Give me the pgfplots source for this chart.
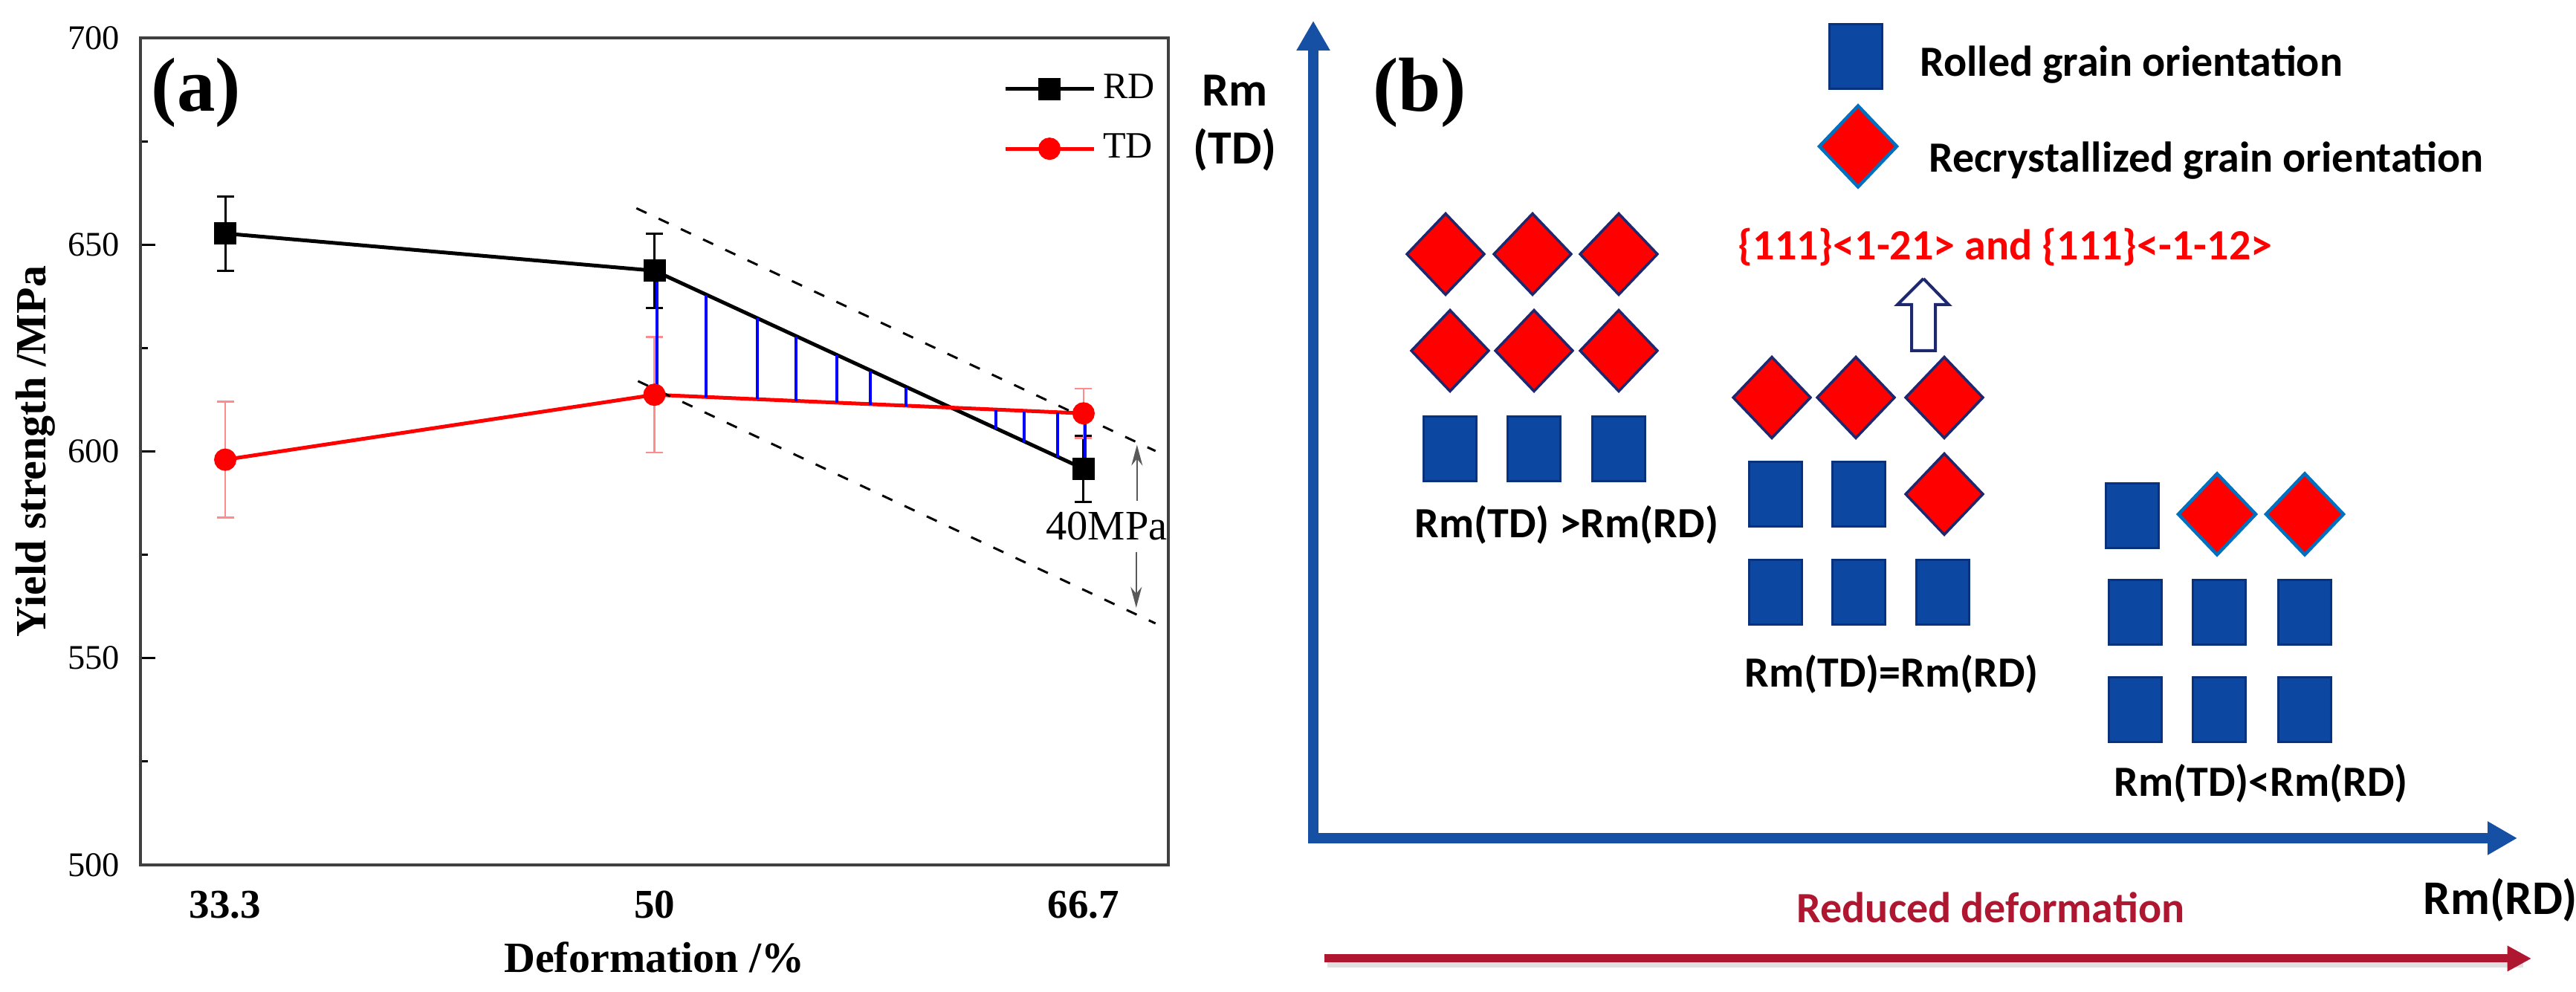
\documentclass[border=0pt]{standalone}
\usepackage{fontspec}
\setmainfont{Liberation Serif}
\newfontfamily\calb{Carlito}
\usepackage{pgfplots}
\pgfplotsset{compat=1.18}
\usetikzlibrary{arrows.meta}
\definecolor{axisBlue}{RGB}{22,80,165}
\definecolor{rectBlue}{RGB}{12,71,161}
\definecolor{rectEdge}{RGB}{8,50,125}
\definecolor{navy}{RGB}{30,40,110}
\definecolor{lightBlue}{RGB}{0,112,192}
\definecolor{darkRed}{RGB}{175,22,48}
\begin{document}
\begin{tikzpicture}
\path[use as bounding box] (0,0) rectangle (693.2pt,267pt);
% ---------------- panel (a) ----------------
\begin{axis}[
  at={(37.8pt,34.2pt)}, anchor=south west,
  width=276.6pt, height=222.6pt, scale only axis,
  xmin=30, xmax=70, ymin=500, ymax=700,
  xtick={33.3,50,66.7}, xticklabels={\textbf{33.3},\textbf{50},\textbf{66.7}},
  ytick={500,550,600,650,700}, minor ytick={525,575,625,675},
  ytick pos=left, tick align=inside,
  major tick length=4pt, minor tick length=2pt,
  x tick style={draw=none},
  y tick style={black, line width=0.6pt},
  axis line style={black!75, line width=0.8pt},
  /pgf/number format/assume math mode=true,
  yticklabel style={font=\fontsize{9.3}{10}\selectfont, xshift=-2.1pt},
  xticklabel style={font=\fontsize{11}{12}\selectfont, yshift=-3.5pt},
  xlabel={\textbf{Deformation /\%}},
  ylabel={\textbf{Yield strength /MPa}},
  label style={font=\fontsize{11.6}{13}\selectfont},
  xlabel style={at={(axis description cs:0.5,-0.1114)}, anchor=center},
  ylabel style={at={(axis description cs:-0.102,0.5)}, anchor=center},
  legend style={at={(axis description cs:0.828,0.975)}, anchor=north west,
    draw=none, fill=none, font=\fontsize{10}{12}\selectfont, row sep=4pt},
  legend cell align=left,
  legend image code/.code={\draw[mark repeat=2, mark phase=2, #1] plot coordinates {(0pt,0pt) (11.9pt,0pt) (23.8pt,0pt)};},
  clip=false,
]
\addplot[black, line width=1pt, mark=square*, mark size=2.5pt,
  error bars/.cd, y dir=both, y explicit,
  error bar style={black, line width=0.6pt},
  error mark options={rotate=90, mark size=2.3pt, line width=0.6pt, black}]
  coordinates {(33.3,652.7) +- (0,9) (50,643.7) +- (0,9) (66.7,595.8) +- (0,8)};
\addplot[red, line width=1pt, mark=*, mark size=2.5pt,
  error bars/.cd, y dir=both, y explicit,
  error bar style={red!45, line width=0.5pt},
  error mark options={rotate=90, mark size=2.3pt, line width=0.5pt, red!45}]
  coordinates {(33.3,598) +- (0,14) (50,613.7) +- (0,14) (66.7,609.2) +- (0,6)};
\legend{RD,TD}
% dashed band
\addplot[black, line width=0.6pt, dash pattern=on 3pt off 3.6pt, forget plot] coordinates {(49.3,658.8) (69.5,600.1)};
\addplot[black, line width=0.6pt, dash pattern=on 3pt off 3.6pt, forget plot] coordinates {(49.36,617.0) (69.5,558.4)};
% blue hatch
\addplot[blue, line width=0.8pt, forget plot] coordinates {(50.1,643.4) (50.1,613.7)};
\addplot[blue, line width=0.8pt, forget plot] coordinates {(52.0,637.9) (52.0,613.1)};
\addplot[blue, line width=0.8pt, forget plot] coordinates {(54.0,632.2) (54.0,612.6)};
\addplot[blue, line width=0.8pt, forget plot] coordinates {(55.5,627.8) (55.5,612.2)};
\addplot[blue, line width=0.8pt, forget plot] coordinates {(57.1,623.2) (57.1,611.7)};
\addplot[blue, line width=0.8pt, forget plot] coordinates {(58.4,619.5) (58.4,611.3)};
\addplot[blue, line width=0.8pt, forget plot] coordinates {(59.8,615.4) (59.8,610.9)};
\addplot[blue, line width=0.8pt, forget plot] coordinates {(63.3,605.4) (63.3,610.0)};
\addplot[blue, line width=0.8pt, forget plot] coordinates {(64.4,602.3) (64.4,609.7)};
\addplot[blue, line width=0.8pt, forget plot] coordinates {(65.7,598.6) (65.7,609.5)};
\addplot[blue, line width=0.8pt, forget plot] coordinates {(66.75,597.5) (66.75,609.2)};
% 40MPa arrows
\addplot[black!65, line width=0.4pt, -{Stealth[length=5.6pt,width=3pt]}, forget plot] coordinates {(68.78,588.1) (68.78,601.6)};
\addplot[black!65, line width=0.4pt, -{Stealth[length=5.6pt,width=3pt]}, forget plot] coordinates {(68.75,575.7) (68.75,562.2)};
\node[font=\fontsize{11.3}{12}\selectfont] at (axis cs:67.6,582) {40MPa};
\node[font=\bfseries\fontsize{20.6}{22}\selectfont] at (axis cs:32.17,686.7) {(a)};
\end{axis}
% ---------------- panel (b) ----------------
\begin{axis}[
  at={(300pt,0pt)}, anchor=south west,
  width=393.2pt, height=267pt, scale only axis,
  xmin=1500, xmax=3466, ymin=0, ymax=1335,
  hide axis, clip=false,
]
% axes arrows
\addplot[axisBlue, line width=2.9pt, line join=miter,
  {Triangle[length=8pt,width=8.5pt]}-{Triangle[length=8pt,width=8.5pt]}]
  coordinates {(1767,1307) (1767,207) (3387,207)};
% reduced deformation arrow
\addplot[black!12, line width=2.2pt] coordinates {(1786,38) (3395,38)};
\addplot[darkRed, line width=2.2pt, -{Triangle[length=6.5pt,width=6.5pt]}] coordinates {(1782,45) (3406,45)};
% hollow arrow
\addplot[draw=navy, fill=white, line width=0.8pt, line join=miter]
  coordinates {(2588,960) (2622,925) (2604,925) (2604,863) (2572,863) (2572,925) (2553,925) (2588,960)};
% rolled grains
\addplot[only marks, mark=square*, mark size=8.7pt,
  mark options={xscale=0.816, fill=rectBlue, draw=rectEdge, line width=0.6pt}]
  coordinates {(2497,1259)
    (1951,731) (2064,731) (2178,731)
    (2389,670) (2501,670)
    (2389,538) (2501,538) (2614,538)
    (2869,641)
    (2873,511) (2986,511) (3101,511)
    (2873,380) (2986,380) (3101,380)};
% recrystallized grains, navy edge
\addplot[only marks, mark=diamond*, mark size=10.9pt,
  mark options={xscale=1.272, fill=red, draw=navy, line width=0.7pt}]
  coordinates {(1945,993) (2062,993) (2178,993)
    (1951,863) (2064,863) (2178,863)
    (2384,800) (2497,800) (2616,800)
    (2616,670)};
% recrystallized grains, light blue edge
\addplot[only marks, mark=diamond*, mark size=10.9pt,
  mark options={xscale=1.272, fill=red, draw=lightBlue, line width=0.9pt}]
  coordinates {(2500,1138) (2983,643) (3101,643)};
% texts
\node[anchor=base west, font=\calb\bfseries\fontsize{12.8}{14}\selectfont] at (axis cs:1600,1192) {Rm};
\node[anchor=base west, font=\calb\bfseries\fontsize{12.8}{14}\selectfont] at (axis cs:1588,1114) {(TD)};
\node[font=\bfseries\fontsize{20.6}{22}\selectfont] at (axis cs:1910,1210) {(b)};
\node[anchor=base west, font=\calb\bfseries\fontsize{11.6}{13}\selectfont] at (axis cs:2566,1232) {Rolled grain orientation};
\node[anchor=base west, font=\calb\bfseries\fontsize{11.6}{13}\selectfont] at (axis cs:2578,1103) {Recrystallized grain orientation};
\node[anchor=base west, text=red, font=\calb\bfseries\fontsize{11.6}{13}\selectfont] at (axis cs:2321,985) {\{111\}<1-21> and \{111\}<-1-12>};
\node[anchor=base west, font=\calb\bfseries\fontsize{11.6}{13}\selectfont] at (axis cs:1886,611) {Rm(TD) >Rm(RD)};
\node[anchor=base west, font=\calb\bfseries\fontsize{11.6}{13}\selectfont] at (axis cs:2330,410) {Rm(TD)=Rm(RD)};
\node[anchor=base west, font=\calb\bfseries\fontsize{11.6}{13}\selectfont] at (axis cs:2827,263) {Rm(TD)<Rm(RD)};
\node[anchor=base west, text=darkRed, font=\calb\bfseries\fontsize{11.6}{13}\selectfont] at (axis cs:2400,93) {Reduced deformation};
\node[anchor=base west, font=\calb\bfseries\fontsize{13}{14}\selectfont] at (axis cs:3243,104) {Rm(RD)};
\end{axis}
\end{tikzpicture}
\end{document}
